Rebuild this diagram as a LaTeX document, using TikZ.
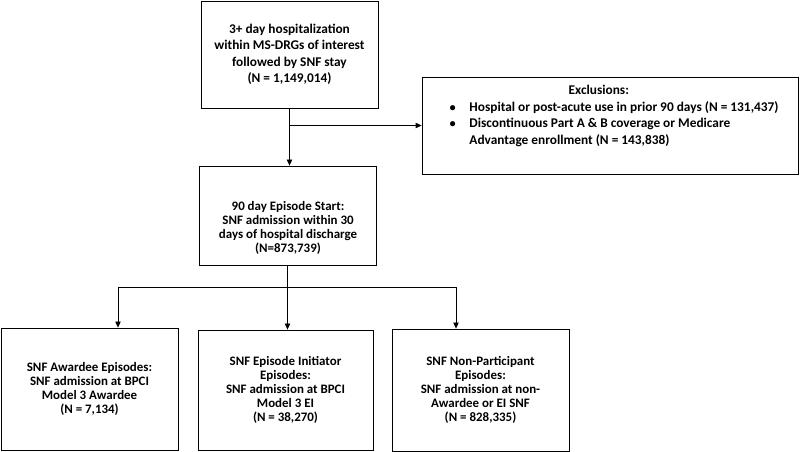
\documentclass[tikz,border=0pt]{standalone}
\usepackage{fontspec}
\setmainfont{Carlito}
\usetikzlibrary{arrows.meta}
\begin{document}
\begin{tikzpicture}[x=0.75pt, y=-0.75pt,
      every node/.style={draw, line width=0.6pt, align=center, inner sep=2pt,
        font=\bfseries\fontsize{10}{12.4}\selectfont},
      box/.style={minimum width=132.75pt},
      small/.style={font=\bfseries\fontsize{9.7}{10.4}\selectfont},
      txt/.style={draw=none},
      link/.style={line width=0.6pt},
      arrow/.style={link, -{Triangle[length=4.5pt,width=4pt]}},]
      \useasboundingbox (0,0) rectangle (800,452);
      \node[box, minimum height=80.25pt] (hosp) at (289.5,54.5)
        {3+ day hospitalization\\within MS-DRGs of interest\\followed by SNF stay\\(N = 1,149,014)};
      \node[box, minimum height=74.25pt] (start) at (287.5,215.5) {};
      \node[txt, small] (starttext) at (288,228)
        {90 day Episode Start:\\SNF admission within 30\\days of hospital discharge\\(N=873,739)};
      \node[minimum width=282pt, minimum height=72.75pt] (excl) at (610,125.5) {};
      \node[txt, align=left] (excltext) at (614,117.5)
        {\makebox[232pt]{\hspace{-8pt}Exclusions:}\\[2.5pt]
         \begin{tabular}{@{}l@{\hspace{10pt}}l@{}}
         $\bullet$ & Hospital or post-acute use in prior 90 days (N = 131,437)\\
         $\bullet$ & Discontinuous Part A \& B coverage or Medicare\\
                   & Advantage enrollment (N = 143,838)
         \end{tabular}};
      \node[box, minimum height=91.5pt, small] (awardee) at (89.5,389)
        {SNF Awardee Episodes:\\SNF admission at BPCI\\Model 3 Awardee\\(N = 7,134)};
      \node[box, minimum width=131.25pt, minimum height=90pt, small] (initiator) at (285.5,390)
        {SNF Episode Initiator\\Episodes:\\SNF admission at BPCI\\Model 3 EI\\(N = 38,270)};
      \node[box, minimum height=91.5pt, small] (nonpart) at (480.5,390)
        {SNF Non-Participant\\Episodes:\\SNF admission at non-\\Awardee or EI SNF\\(N = 828,335)};
      % connectors
      \coordinate (split) at (hosp.south |- excl.west);
      \coordinate (busL) at (118,287);
      \coordinate (busR) at (456,287);
      \draw[arrow] (hosp.south) -- (hosp.south |- start.north);
      \draw[arrow] (split) -- (excl.west);
      \draw[link] (start.south) -- (start.south |- busL);
      \draw[link] (busL) -- (busR);
      \draw[arrow] (busL) -- (busL |- awardee.north);
      \draw[arrow] (start.south |- busL) -- (start.south |- initiator.north);
      \draw[arrow] (busR) -- (busR |- nonpart.north);
    \end{tikzpicture}
\end{document}
